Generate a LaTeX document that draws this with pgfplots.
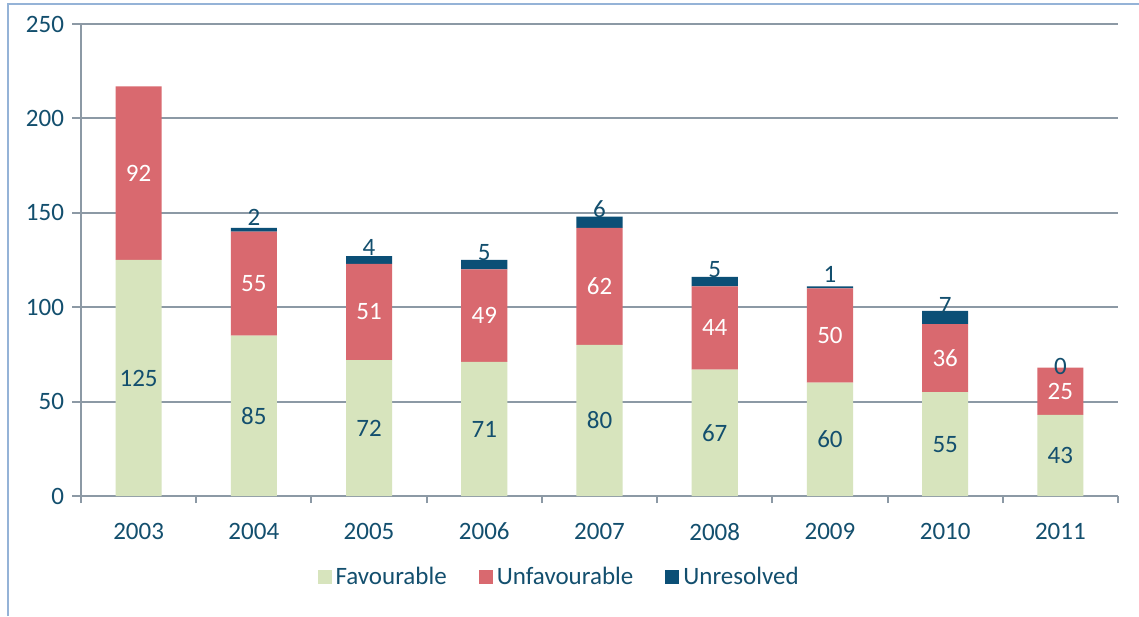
\documentclass[border=0pt]{standalone}
\usepackage{fontspec}
\setmainfont{Carlito}
\usepackage{pgfplots}
\usepackage{pgfplotstable}
\pgfplotsset{compat=1.18}
\definecolor{fav}{HTML}{D7E4BD}
\definecolor{unfav}{HTML}{D9696F}
\definecolor{unres}{HTML}{0B4F76}
\definecolor{txt}{HTML}{134F6E}
\definecolor{gridc}{HTML}{8C99A5}
\definecolor{framec}{HTML}{95B3D7}
\pgfplotstableread{
x F U R L
0 125 92 0 {}
1 85 55 2 2
2 72 51 4 4
3 71 49 5 5
4 80 62 6 6
5 67 44 5 5
6 60 50 1 1
7 55 36 7 7
8 43 25 0 0
}\datatable
\begin{document}
\begin{tikzpicture}
\useasboundingbox (0,0) rectangle (569.5pt,308pt);
\fill[white] (0,0) rectangle (569.5pt,308pt);
\draw[framec, line width=1pt] (4pt,0) -- (4pt,306pt) -- (569.5pt,306pt);
\begin{axis}[
  at={(40.5pt,60pt)}, anchor=south west,
  scale only axis, width=518.5pt, height=236pt,
  ybar stacked, bar width=0.4,
  xmin=-0.5, xmax=8.5, ymin=0, ymax=250,
  xtick={0,...,8},
  xticklabels={2003,2004,2005,2006,2007,2008,2009,2010,2011},
  minor xtick={-0.5,0.5,...,8.5},
  ytick={0,50,...,250},
  axis lines*=left,
  axis line style={gridc, line width=1pt},
  tick align=outside,
  major tick length=4.5pt, minor tick length=3.5pt,
  tick style={gridc, line width=1pt},
  major x tick style={draw=none},
  ymajorgrids, grid style={gridc, line width=1pt},
  /pgf/number format/assume math mode=true,
  tick label style={font=\fontsize{12.5}{14}\selectfont, text=txt},
  yticklabel style={xshift=-0.5pt},
  xticklabel style={yshift=-5.5pt},
  legend style={draw=none, at={(0.462,-0.172)}, anchor=center,
    legend columns=3, font=\fontsize{12.5}{14}\selectfont, text=txt,
    /tikz/every even column/.append style={column sep=14pt},
    nodes={inner sep=2pt}},
  legend image code/.code={\fill[#1] (0pt,-3.5pt) rectangle (7pt,3.5pt);},
  nodes near coords,
  every node near coord/.append style={font=\fontsize{12.5}{14}\selectfont},
]
\addplot+[fill=fav, draw=none, point meta=explicit,
  visualization depends on={rawy \as \rawy},
  every node near coord/.append style={text=txt, anchor=center, shift={(axis direction cs:0,0)}}]
  table[x=x, y=F, meta=F] {\datatable};
\addlegendentry{Favourable}
\addplot+[fill=unfav, draw=none, point meta=explicit,
  visualization depends on={rawy \as \rawy},
  every node near coord/.append style={text=white, anchor=center, shift={(axis direction cs:0,0)}}]
  table[x=x, y=U, meta=U] {\datatable};
\addlegendentry{Unfavourable}
\addplot+[fill=unres, draw=none, point meta=explicit symbolic,
  every node near coord/.append style={text=txt, anchor=south, inner sep=2pt}]
  table[x=x, y=R, meta=L] {\datatable};
\addlegendentry{Unresolved}
\coordinate (zerolab) at (axis cs:8,68.5);
\end{axis}
\node[text=txt, font=\fontsize{12.5}{14}\selectfont] at (zerolab) {0};
\end{tikzpicture}
\end{document}
